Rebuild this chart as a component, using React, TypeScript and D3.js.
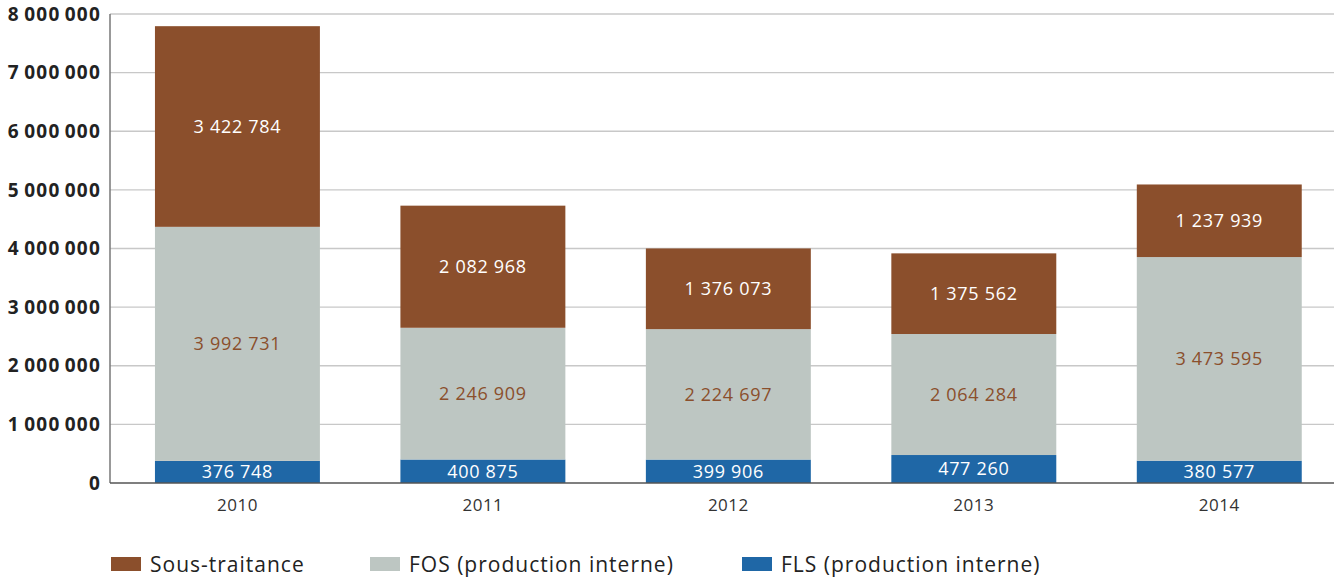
import React from "react";
import * as d3 from "d3";

const years = ["2010", "2011", "2012", "2013", "2014"];
const fls = [376748, 400875, 399906, 477260, 380577];
const fos = [3992731, 2246909, 2224697, 2064284, 3473595];
const sous = [3422784, 2082968, 1376073, 1375562, 1237939];
const yTicks = [0, 1000000, 2000000, 3000000, 4000000, 5000000, 6000000, 7000000, 8000000];

const seriesDefs = [
  { key: "fls", name: "FLS (production interne)", values: fls, color: "#1F67A6", text: "#ffffff" },
  { key: "fos", name: "FOS (production interne)", values: fos, color: "#BDC6C2", text: "#8B4F2C" },
  { key: "sous", name: "Sous-traitance", values: sous, color: "#8B4F2C", text: "#ffffff" },
];
const legendOrder = ["sous", "fos", "fls"];

const W = 1334;
const H = 579;
const FONT = "'Open Sans', sans-serif";

const fmtSp = (v: number, sep: string) => String(v).replace(/\B(?=(\d{3})+(?!\d))/g, sep);

export default function App() {
  const x = d3.scaleBand<string>().domain(years).range([114.7, 1342]).paddingInner(0.328).paddingOuter(0.164);
  const y = d3.scaleLinear().domain([0, 8000000]).range([483, 14]);
  const axisX = 110;

  const stackData = years.map((yr, i) => ({ year: yr, fls: fls[i], fos: fos[i], sous: sous[i] }));
  const stacked = d3.stack<any>().keys(["fls", "fos", "sous"])(stackData);

  const legendX: Record<string, number> = { sous: 111, fos: 370, fls: 742 };

  return (
    <svg width={W} height={H} style={{ position: "absolute", left: 0, top: 0 }} fontFamily={FONT}>
      {yTicks.map((t) => (
        <g key={t}>
          {t > 0 && <line x1={axisX} x2={W} y1={y(t)} y2={y(t)} stroke="#c8c8c8" strokeWidth={1.3} />}
          <text x={101} y={y(t)} dy="0.35em" textAnchor="end" fontSize={19} fontWeight={700} fill="#222" letterSpacing={1.2}>
            {fmtSp(t, "\u2009")}
          </text>
        </g>
      ))}
      {stacked.map((layer, li) => {
        const def = seriesDefs[li];
        return (
          <g key={def.key}>
            {layer.map((d, i) => (
              <rect key={i} x={x(years[i])!} y={y(d[1])} width={x.bandwidth()} height={y(d[0]) - y(d[1])} fill={def.color} />
            ))}
          </g>
        );
      })}
      {stacked.map((layer, li) => {
        const def = seriesDefs[li];
        return (
          <g key={def.key + "l"}>
            {layer.map((d, i) => (
              <text
                key={i}
                x={x(years[i])! + x.bandwidth() / 2}
                y={(y(d[0]) + y(d[1])) / 2}
                dy="0.36em"
                textAnchor="middle"
                fontSize={18}
                letterSpacing={0.7}
                fill={def.text}
              >
                {fmtSp(def.values[i], " ")}
              </text>
            ))}
          </g>
        );
      })}
      <line x1={axisX} x2={axisX} y1={14} y2={483} stroke="#777" strokeWidth={1.5} />
      <line x1={axisX} x2={W} y1={483} y2={483} stroke="#555" strokeWidth={1.5} />
      {years.map((yr) => (
        <text key={yr} x={x(yr)! + x.bandwidth() / 2} y={505} dy="0.35em" textAnchor="middle" fontSize={17} letterSpacing={0.5} fill="#333">
          {yr}
        </text>
      ))}
      {legendOrder.map((k) => {
        const def = seriesDefs.find((s) => s.key === k)!;
        const lx = legendX[k];
        return (
          <g key={k}>
            <rect x={lx} y={557} width={30} height={14} fill={def.color} />
            <text x={lx + 39} y={564.5} dy="0.36em" fontSize={21} letterSpacing={1.0} fill="#222">
              {def.name}
            </text>
          </g>
        );
      })}
    </svg>
  );
}
